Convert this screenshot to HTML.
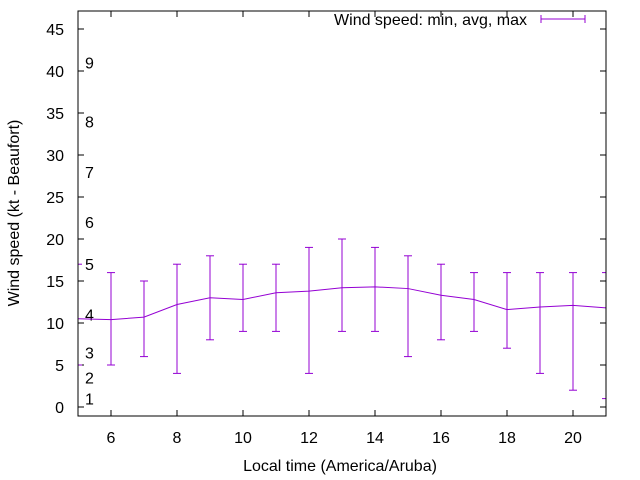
<!DOCTYPE html>
<html><head><meta charset="utf-8"><style>body{margin:0;background:#fff}svg{display:block;font-family:"Liberation Sans",sans-serif}</style></head>
<body>
<svg width="640" height="480" viewBox="0 0 640 480">
<defs><clipPath id="pc"><rect x="78" y="11" width="528" height="405"/></clipPath></defs>
<g id="grid"></g>
<g id="data" clip-path="url(#pc)"></g>
<rect x="78" y="11" width="528" height="405" fill="none" stroke="#000"/>
<text x="19" y="213" font-size="16" text-anchor="middle" transform="rotate(-90 19 213)">Wind speed (kt - Beaufort)</text>
<text x="340" y="471" font-size="16" text-anchor="middle">Local time (America/Aruba)</text>
<g>
<text x="527" y="25" font-size="16" text-anchor="end">Wind speed: min, avg, max</text>
<line x1="541" y1="19" x2="585" y2="19" stroke="#9400d3"/><line x1="541" y1="15" x2="541" y2="23" stroke="#9400d3"/><line x1="585" y1="15" x2="585" y2="23" stroke="#9400d3"/>
</g>
<script>
const hours=[5,6,7,8,9,10,11,12,13,14,15,16,17,18,19,20,21];
const avgs=[10.5,10.4,10.7,12.2,13,12.8,13.6,13.8,14.2,14.3,14.1,13.3,12.8,11.6,11.9,12.1,11.8];
const mins=[5,5,6,4,8,9,9,4,9,9,6,8,9,7,4,2,1];
const maxs=[17,16,15,17,18,17,17,19,20,19,18,17,16,16,16,16,16];
const yTicks=[0,5,10,15,20,25,30,35,40,45];
const xTicks=[6,8,10,12,14,16,18,20];
const beaufort=[1,2,3,4,5,6,7,8,9];
const beaufortAt=[1,3.5,6.5,11,17,22,28,34,41];
const NS="http://www.w3.org/2000/svg";
const X=v=>78+(v-5)*(528/16);
const Y=v=>407-v*8.4;
const g=document.getElementById('grid'),d=document.getElementById('data');
function mk(p,t,a){const e=document.createElementNS(NS,t);for(const k in a)e.setAttribute(k,a[k]);p.appendChild(e);return e;}
yTicks.forEach(v=>{
 const t=mk(g,'text',{x:64,y:Y(v)+6,'font-size':16,'text-anchor':'end'});t.textContent=v;
 
 
 mk(g,'line',{x1:78,x2:84,y1:Y(v),y2:Y(v),stroke:'#000'});
 mk(g,'line',{x1:600,x2:606,y1:Y(v),y2:Y(v),stroke:'#000'});
});
xTicks.forEach(v=>{
 const t=mk(g,'text',{x:X(v),y:443,'font-size':16,'text-anchor':'middle'});t.textContent=v;
 
 
 mk(g,'line',{x1:X(v),x2:X(v),y1:416,y2:410,stroke:'#000'});
 mk(g,'line',{x1:X(v),x2:X(v),y1:11,y2:17,stroke:'#000'});
});
beaufort.forEach((b,i)=>{
 const t=mk(g,'text',{x:85,y:Y(beaufortAt[i])+6,'font-size':16});t.textContent=b;
 
 
});
const line=mk(d,'polyline',{points:hours.map((h,i)=>X(h)+','+Y(avgs[i])).join(' '),fill:'none',stroke:'#9400d3'});


hours.forEach((h,i)=>{
 const e=mk(d,'g',{stroke:'#9400d3'});
 
 
 const x=X(h);
 mk(e,'line',{x1:x,x2:x,y1:Y(mins[i]),y2:Y(maxs[i])});
 mk(e,'line',{x1:x-4,x2:x+4,y1:Y(mins[i]),y2:Y(mins[i])});
 mk(e,'line',{x1:x-4,x2:x+4,y1:Y(maxs[i]),y2:Y(maxs[i])});
});
</script>
</svg>
</body></html>
